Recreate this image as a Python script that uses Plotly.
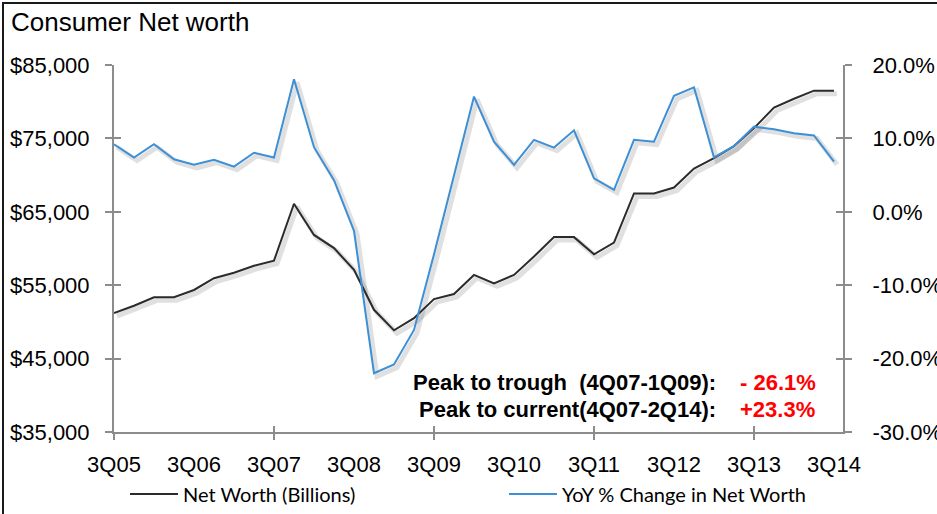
import plotly.graph_objects as go

# Quarterly categories, 3Q05 .. 3Q14
quarters = [
    "3Q05", "4Q05", "1Q06", "2Q06", "3Q06", "4Q06", "1Q07", "2Q07", "3Q07", "4Q07",
    "1Q08", "2Q08", "3Q08", "4Q08", "1Q09", "2Q09", "3Q09", "4Q09", "1Q10", "2Q10",
    "3Q10", "4Q10", "1Q11", "2Q11", "3Q11", "4Q11", "1Q12", "2Q12", "3Q12", "4Q12",
    "1Q13", "2Q13", "3Q13", "4Q13", "1Q14", "2Q14", "3Q14",
]

# Household net worth, $ billions
net_worth = [
    51200, 52200, 53350, 53350, 54350, 55950, 56700, 57650, 58350, 66100,
    61850, 60050, 57100, 51650, 48850, 50500, 53100, 53800, 56400, 55250,
    56400, 58900, 61550, 61550, 59200, 60800, 67500, 67500, 68300, 70900,
    72300, 73950, 76400, 79200, 80400, 81500, 81500,
]

# Year-over-year change in net worth, %
yoy_change = [
    9.2, 7.4, 9.2, 7.15, 6.4, 7.1, 6.15, 8.05, 7.4, 18.05,
    8.8, 4.3, -2.6, -22.0, -20.8, -16.1, -5.8, 5.0, 15.7, 9.55,
    6.4, 9.8, 8.75, 11.1, 4.55, 3.0, 9.8, 9.55, 15.8, 16.95,
    7.4, 8.95, 11.6, 11.25, 10.7, 10.4, 6.85,
]

labelled_quarters = ["3Q05", "3Q06", "3Q07", "3Q08", "3Q09", "3Q10", "3Q11", "3Q12", "3Q13", "3Q14"]
major_quarters = ["3Q05", "3Q07", "3Q09", "3Q11", "3Q13"]

left_ticks = [35000, 45000, 55000, 65000, 75000, 85000]
left_tick_text = ["$35,000", "$45,000", "$55,000", "$65,000", "$75,000", "$85,000"]
right_ticks = [-30, -20, -10, 0, 10, 20]
right_tick_text = ["-30.0%", "-20.0%", "-10.0%", "0.0%", "10.0%", "20.0%"]

stat_labels = ["Peak to trough  (4Q07-1Q09):", "Peak to current(4Q07-2Q14):"]
stat_values = ["- 26.1%", "+23.3%"]

# ---- page geometry (pixels) ----
W, H = 937, 514
ML, MR, MT, MB = 114, 94, 65, 82
PW, PH = W - ML - MR, H - MT - MB

X_RANGE = [0, 36.45]
LEFT_RANGE = [35000, 85000]
RIGHT_RANGE = [-30, 20]

AXIS_GREY = "#8c8c8c"
BLACK_LINE = "#2b2b2b"
BLUE_LINE = "#3d8fd6"
SHADOW = "rgba(0,0,0,0.12)"
FONT = "Arial, Liberation Sans, sans-serif"
LEGEND_FONT = "Lato, Open Sans, sans-serif"


def px_x(px):
    return (px - ML) / PW


def px_y(py):
    return (H - MB - py) / PH


def shifted(rng, px, span):
    # shift an axis range so that traces appear `px` pixels lower
    d = (rng[1] - rng[0]) / span * px
    return [rng[0] + d, rng[1] + d]


SH = 3  # shadow offset in px
x_step = (X_RANGE[1] - X_RANGE[0]) / PW * SH
xs_shadow = [X_RANGE[0] - x_step, X_RANGE[1] - x_step]
left_shadow = shifted(LEFT_RANGE, SH, PH)
right_shadow = shifted(RIGHT_RANGE, SH, PH)

fig = go.Figure()

# soft drop shadows beneath the lines (main subplot, drawn first)
fig.add_trace(go.Scatter(x=quarters, y=net_worth, mode="lines", xaxis="x", yaxis="y",
                         line=dict(color=SHADOW, width=5), showlegend=False, hoverinfo="skip"))
fig.add_trace(go.Scatter(x=quarters, y=yoy_change, mode="lines", xaxis="x", yaxis="y4",
                         line=dict(color=SHADOW, width=5), showlegend=False, hoverinfo="skip"))

# series
fig.add_trace(go.Scatter(x=quarters, y=net_worth, mode="lines", name="Net Worth (Billions)",
                         xaxis="x2", yaxis="y2", line=dict(color=BLACK_LINE, width=2),
                         legend="legend"))
fig.add_trace(go.Scatter(x=quarters, y=yoy_change, mode="lines", name="YoY % Change in Net Worth",
                         xaxis="x2", yaxis="y3", line=dict(color=BLUE_LINE, width=2),
                         legend="legend2"))

# empty traces that carry the inner tick marks and the quarter labels
fig.add_trace(go.Scatter(x=[], y=[], xaxis="x3", yaxis="y5", showlegend=False, hoverinfo="skip"))
fig.add_trace(go.Scatter(x=[], y=[], xaxis="x3", yaxis="y6", showlegend=False, hoverinfo="skip"))
fig.add_trace(go.Scatter(x=[], y=[], xaxis="x4", yaxis="y2", showlegend=False, hoverinfo="skip"))

hidden = dict(showticklabels=False, showline=False, showgrid=False, zeroline=False, ticks="")
legend_common = dict(orientation="h", xref="container", yref="container",
                     xanchor="left", yanchor="middle", y=1 - 494 / H,
                     font=dict(family=LEGEND_FONT, size=20, color="black"),
                     bgcolor="rgba(0,0,0,0)", borderwidth=0, itemwidth=48)

fig.update_layout(
    width=W, height=H,
    margin=dict(l=ML, r=MR, t=MT, b=MB, pad=0, autoexpand=False),
    paper_bgcolor="white", plot_bgcolor="white",
    font=dict(family=FONT, color="black", size=22),
    title=dict(text="Consumer Net worth", font=dict(family=FONT, size=26, color="black"),
               xref="container", yref="container", x=11 / W, xanchor="left",
               y=1 - 22 / H, yanchor="middle"),
    # shadow axes
    xaxis=dict(type="category", categoryarray=quarters, range=xs_shadow, **hidden),
    yaxis=dict(range=left_shadow, **hidden),
    yaxis4=dict(range=right_shadow, overlaying="y", side="right", **hidden),
    # visible category axis (outer halves of the tick marks)
    xaxis2=dict(type="category", categoryarray=quarters, range=X_RANGE, overlaying="x",
                anchor="y2", side="bottom",
                tickmode="array", tickvals=major_quarters, ticktext=[""] * len(major_quarters),
                ticks="outside", ticklen=6, tickwidth=2, tickcolor=AXIS_GREY,
                showline=True, linecolor=AXIS_GREY, linewidth=2, showgrid=False, zeroline=False),
    # value axes
    yaxis2=dict(range=LEFT_RANGE, overlaying="y", side="left", anchor="x2",
                tickmode="array", tickvals=left_ticks, ticktext=left_tick_text,
                ticks="outside", ticklen=7, tickwidth=2, tickcolor=AXIS_GREY,
                showline=True, linecolor=AXIS_GREY, linewidth=2,
                showgrid=False, zeroline=False, ticklabelstandoff=11),
    yaxis3=dict(range=RIGHT_RANGE, overlaying="y", side="right", anchor="x2",
                tickmode="array", tickvals=right_ticks, ticktext=right_tick_text,
                ticks="outside", ticklen=7, tickwidth=2, tickcolor=AXIS_GREY,
                showline=True, linecolor=AXIS_GREY, linewidth=2,
                showgrid=False, zeroline=False, ticklabelstandoff=16),
    # quarter labels
    xaxis3=dict(type="category", categoryarray=quarters, range=X_RANGE, overlaying="x",
                anchor="y5", side="bottom",
                tickmode="array", tickvals=labelled_quarters, ticktext=labelled_quarters,
                ticks="", showline=False, showgrid=False, zeroline=False,
                ticklabelstandoff=17),
    # inner halves of the crossing tick marks
    xaxis4=dict(type="category", categoryarray=quarters, range=X_RANGE, overlaying="x",
                anchor="y2", side="bottom",
                tickmode="array", tickvals=major_quarters, showticklabels=False,
                ticks="inside", ticklen=6, tickwidth=2, tickcolor=AXIS_GREY,
                showline=False, showgrid=False, zeroline=False),
    yaxis5=dict(range=LEFT_RANGE, overlaying="y", side="left", anchor="x3",
                tickmode="array", tickvals=left_ticks, showticklabels=False,
                ticks="inside", ticklen=7, tickwidth=2, tickcolor=AXIS_GREY,
                showline=False, showgrid=False, zeroline=False),
    yaxis6=dict(range=RIGHT_RANGE, overlaying="y", side="right", anchor="x3",
                tickmode="array", tickvals=right_ticks, showticklabels=False,
                ticks="inside", ticklen=7, tickwidth=2, tickcolor=AXIS_GREY,
                showline=False, showgrid=False, zeroline=False),
    legend=dict(x=125 / W, **legend_common),
    legend2=dict(x=504 / W, **legend_common),
    showlegend=True,
)

# peak / trough summary
for i, (lab, val) in enumerate(zip(stat_labels, stat_values)):
    yy = px_y(382 + 27 * i)
    fig.add_annotation(text=lab, x=px_x(718), y=yy, xref="paper", yref="paper",
                       xanchor="right", yanchor="middle", showarrow=False,
                       font=dict(family=FONT, size=22, color="black", weight="bold"))
    fig.add_annotation(text=val, x=px_x(738), y=yy, xref="paper", yref="paper",
                       xanchor="left", yanchor="middle", showarrow=False,
                       font=dict(family=FONT, size=22, color="#ff0000", weight="bold"))

# chart frame
fig.add_shape(type="rect", xref="paper", yref="paper",
              x0=px_x(3), x1=px_x(950), y0=px_y(530), y1=px_y(3),
              line=dict(color="#1a1a1a", width=2), fillcolor="rgba(0,0,0,0)", layer="below")

fig.write_html("out.html")
